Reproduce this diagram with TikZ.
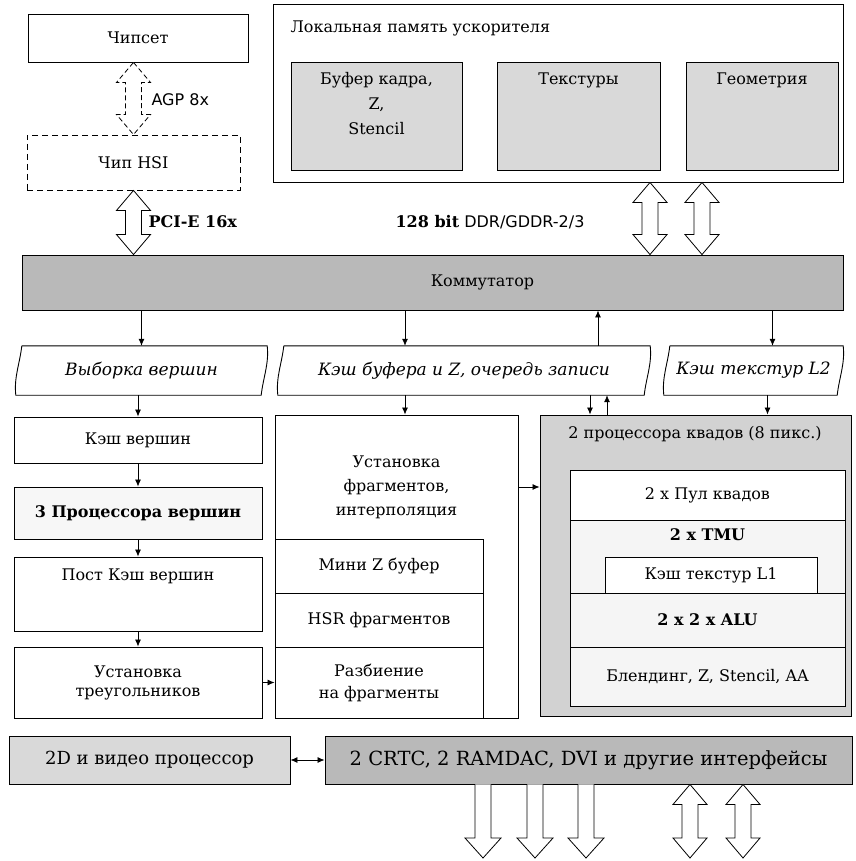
\documentclass[tikz,border=0pt]{standalone}
\usepackage{fontspec}
\setmainfont{DejaVu Serif}
\setsansfont{DejaVu Sans}
\usepackage{tikz}
\usetikzlibrary{arrows.meta,calc}

\newcommand{\fatboth}[3][]{%
  \draw[blockarr,#1] let \p1=(#2), \p2=(#3) in
    (\x1,\y1) -- (\x1+17pt,\y1-20pt) -- (\x1+8pt,\y1-20pt) -- (\x1+8pt,\y2+20pt)
    -- (\x1+17pt,\y2+20pt) -- (\x1,\y2) -- (\x1-17pt,\y2+20pt) -- (\x1-8pt,\y2+20pt)
    -- (\x1-8pt,\y1-20pt) -- (\x1-17pt,\y1-20pt) -- cycle;}
\newcommand{\fatdown}[2]{%
  \draw[blockarr] let \p1=(#1), \p2=(#2) in
    (\x1-8pt,\y1) -- (\x1-8pt,\y2+20pt) -- (\x1-18pt,\y2+20pt) -- (\x1,\y2)
    -- (\x1+18pt,\y2+20pt) -- (\x1+8pt,\y2+20pt) -- (\x1+8pt,\y1);}

\begin{document}
\begin{tikzpicture}[x=1pt, y=-1pt,
  font=\fontsize{16}{19}\selectfont,
  blk/.style={draw, line width=0.9pt, align=center, inner sep=0pt},
  mem/.style={blk, fill=gray!30, font=\fontsize{16}{25}\selectfont},
  sub/.style={blk, fill=gray!8},
  row/.style={align=center, inner sep=0pt, font=\fontsize{17}{20}\selectfont\itshape},
  flow/.style={-{Latex[length=7pt,width=6pt]}, line width=0.8pt},
  blockarr/.style={draw, line width=0.8pt, fill=white, line join=miter}]
\useasboundingbox (0,0) rectangle (855,861);

% chipset and HSI
\node[blk, minimum width=220pt, minimum height=48pt] (chip) at (138,38) {Чипсет};
\node[blk, dash pattern=on 6pt off 4pt, minimum width=213pt, minimum height=55pt] (hsi) at (133.5,162.5) {Чип HSI};
\fatboth[dash pattern=on 5pt off 3pt]{chip.south -| hsi}{hsi.north}
\node[anchor=west, font=\fontsize{16}{19}\selectfont\sffamily] (agp) at (148,100) {AGP 8x};
\node[anchor=west, font=\fontsize{16}{19}\selectfont\bfseries] (pcie) at (145,222) {PCI-E 16x};

% local memory
\node[blk, minimum width=570pt, minimum height=178pt] (lmem) at (558,93) {};
\node[anchor=west] (lmemtitle) at (287,28) {Локальная память ускорителя};
\node[mem, minimum width=171pt, minimum height=108pt] (fbuf) at (376.5,116) {Буфер кадра,\\Z,\\Stencil\\~};
\node[mem, minimum width=163pt, minimum height=108pt] (textures) at (578.5,116) {Текстуры\\~\\~\\~};
\node[mem, minimum width=152pt, minimum height=108pt] (geom) at (762,116) {Геометрия\\~\\~\\~};
\node (ddr) at (490,222) {\textbf{128 bit} {\sffamily DDR/GDDR-2/3}};

% commutator
\node[blk, fill=gray!55, minimum width=821pt, minimum height=55pt] (komm) at (432.5,282.5) {\hspace*{100pt}Коммутатор};
\coordinate (m1) at (650,220);
\coordinate (m2) at (702,220);
\fatboth{lmem.south -| m1}{komm.north -| m1}
\fatboth{lmem.south -| m2}{komm.north -| m2}
\fatboth{hsi.south}{komm.north -| hsi.south}

% caches
\node[row, minimum width=251pt, minimum height=49pt] (vyb) at (141.5,370.5) {Выборка вершин};
\node[row, minimum width=372pt, minimum height=49pt] (kbuf) at (464,370.5) {Кэш буфера и Z, очередь записи};
\node[row, minimum width=179pt, minimum height=49pt] (ktex) at (753.5,370.5) {Кэш текстур L2};
\foreach \n in {vyb,kbuf,ktex}
  \draw[line width=0.9pt] ([xshift=6pt]\n.north west) -- (\n.north east)
    .. controls +(2,18) and +(2,-18) .. ([xshift=-6pt]\n.south east)
    -- (\n.south west)
    .. controls +(-2,-18) and +(-2,18) .. ([xshift=6pt]\n.north west);

% vertex part
\node[blk, minimum width=248pt, minimum height=46pt] (kv) at (138,440) {Кэш вершин};
\node[blk, fill=gray!6, minimum width=248pt, minimum height=52pt, font=\fontsize{16}{19}\selectfont\bfseries] (pv) at (138,513) {3 Процессора вершин};
\node[blk, minimum width=248pt, minimum height=74pt] (pk) at (138,594) {Пост Кэш вершин\\~\\~};
\node[blk, minimum width=248pt, minimum height=71pt] (ust) at (138,682.5) {Установка\\треугольников};

% fragments
\node[blk, minimum width=243pt, minimum height=303pt] (frag) at (396.5,566.5) {};
\node[align=center, font=\fontsize{16}{24}\selectfont] (fragtxt) at (396.5,487) {Установка\\фрагментов,\\интерполяция};
\node[blk, minimum width=208pt, minimum height=54pt] (minz) at (379,566) {Мини Z буфер};
\node[blk, minimum width=208pt, minimum height=54pt] (hsr) at (379,620) {HSR фрагментов};
\node[blk, minimum width=208pt, minimum height=71pt, font=\fontsize{16}{22}\selectfont] (razb) at (379,682.5) {Разбиение\\на фрагменты};

% quad processors
\node[blk, fill=gray!35, minimum width=311pt, minimum height=301pt] (quad) at (695.5,565.5) {};
\node (quadtitle) at (695,434) {2 процессора квадов (8 пикс.)};
\node[blk, fill=white, minimum width=275pt, minimum height=50pt] (pul) at (707.5,495) {2 x Пул квадов};
\node[sub, minimum width=275pt, minimum height=73pt,
  label={[anchor=north, inner sep=0pt, yshift=-9pt, font=\fontsize{16}{19}\selectfont\bfseries]north:2 x TMU}] (tmu) at (707.5,556.5) {};
\node[blk, fill=white, minimum width=212pt, minimum height=36pt] (l1) at (711,575) {Кэш текстур L1};
\node[sub, minimum width=275pt, minimum height=54pt, font=\fontsize{16}{19}\selectfont\bfseries] (alu) at (707.5,620) {2 x 2 x ALU};
\node[sub, minimum width=275pt, minimum height=59pt] (blend) at (707.5,676.5) {Блендинг, Z, Stencil, AA};

% output
\node[blk, fill=gray!30, minimum width=281pt, minimum height=48pt, font=\fontsize{18}{21}\selectfont] (vid) at (149.5,760) {2D и видео процессор};
\node[blk, fill=gray!55, minimum width=527pt, minimum height=48pt, font=\fontsize{19.5}{22}\selectfont] (disp) at (588.5,760) {2 CRTC, 2 RAMDAC, DVI и другие интерфейсы};
\coordinate (o1) at (483,858);
\coordinate (o2) at (535,858);
\coordinate (o3) at (586,858);
\coordinate (io1) at (690,858);
\coordinate (io2) at (743,858);
\foreach \c in {o1,o2,o3} {\fatdown{disp.south -| \c}{\c}}
\foreach \c in {io1,io2} {\fatboth{disp.south -| \c}{\c}}

% connections
\draw[flow] (komm.south -| vyb) -- (vyb.north);
\draw[flow] ([xshift=-59pt]kbuf.north |- komm.south) -- ([xshift=-59pt]kbuf.north);
\draw[flow] ([xshift=134pt]kbuf.north) -- ([xshift=134pt]kbuf.north |- komm.south);
\draw[flow] ([xshift=19pt]ktex.north |- komm.south) -- ([xshift=19pt]ktex.north);
\draw[flow] (vyb.south -| kv) -- (kv.north);
\draw[flow] ([xshift=-59pt]kbuf.south) -- ([xshift=-59pt]kbuf.south |- frag.north);
\draw[flow] ([xshift=126pt]kbuf.south) -- ([xshift=126pt]kbuf.south |- quad.north);
\draw[flow] ([xshift=143pt]kbuf.south |- quad.north) -- ([xshift=143pt]kbuf.south);
\draw[flow] ([xshift=14pt]ktex.south) -- ([xshift=14pt]ktex.south |- quad.north);
\draw[flow] (kv.south) -- (pv.north);
\draw[flow] (pv.south) -- (pk.north);
\draw[flow] (pk.south) -- (ust.north);
\draw[flow] (ust.east) -- (ust.east -| frag.west);
\draw[flow] (fragtxt -| frag.east) -- (fragtxt -| quad.west);
\draw[{Latex[length=7pt,width=6pt]}-{Latex[length=7pt,width=6pt]}, line width=0.8pt] (vid.east) -- (disp.west);
\end{tikzpicture}
\end{document}
